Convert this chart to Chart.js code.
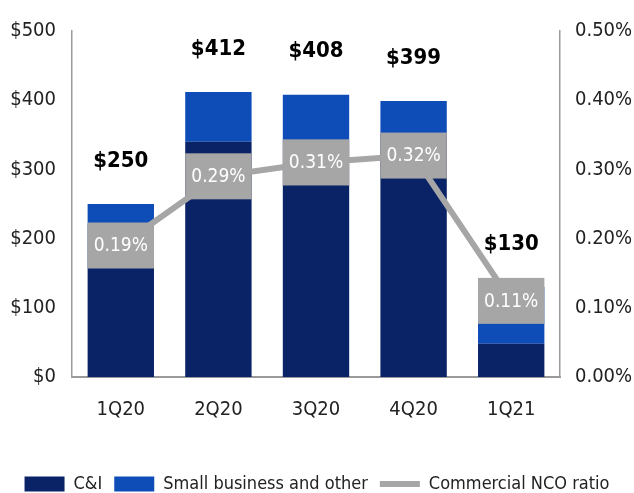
<!DOCTYPE html>
<html>
<head>
<meta charset="utf-8">
<script src="https://cdn.jsdelivr.net/npm/chart.js@4.4.1/dist/chart.umd.min.js"></script>
<style>
html, body { margin: 0; padding: 0; background: #fff; }
#wrap { width: 634px; height: 493px; }
</style>
</head>
<body>
<div id="wrap"><canvas id="barChart"></canvas></div>
<script>
// data (millions, NCO ratio in %)
var quarters = ['1Q20', '2Q20', '3Q20', '4Q20', '1Q21'];
var cAndI = [222, 340, 343, 352, 48];
var smallBusiness = [28, 72, 65, 47, 82];
var totals = [250, 412, 408, 399, 130];
var ncoRatio = [0.19, 0.29, 0.31, 0.32, 0.11];

var FONT = "'DejaVu Sans Condensed', 'Liberation Sans Narrow', sans-serif";

// gray ratio boxes over the line + bold totals above bars
var ratioBoxes = {
    id: 'ratioBoxes',
    afterDatasetsDraw: function(chart){
        var ctx = chart.ctx;
        var lineMeta = chart.getDatasetMeta(2);
        var barMeta = chart.getDatasetMeta(0);
        var yLeft = chart.scales.y;
        ctx.save();
        ctx.textAlign = 'center';
        ctx.textBaseline = 'middle';
        lineMeta.data.forEach(function(pt, i){
            var w = barMeta.data[i].width;
            ctx.fillStyle = '#a6a6a6';
            ctx.fillRect(pt.x - w / 2, pt.y - 23, w, 46);
            ctx.fillStyle = '#ffffff';
            ctx.font = '19px ' + FONT;
            ctx.fillText(ncoRatio[i].toFixed(2) + '%', pt.x, pt.y + 1);
            ctx.fillStyle = '#000000';
            ctx.font = 'bold 22px ' + FONT;
            ctx.fillText('$' + totals[i], pt.x, yLeft.getPixelForValue(totals[i]) - 43);
        });
        ctx.restore();
    }
};

var ctx = document.getElementById('barChart').getContext('2d');
var chart = new Chart(ctx, {
    type: 'bar',
    data: {
        labels: quarters,
        datasets: [{
            label: 'C&I',
            data: cAndI,
            backgroundColor: '#0a2266',
            pointStyle: 'rect',
            order: 1,
            yAxisID: 'y'
        }, {
            label: 'Small business and other',
            data: smallBusiness,
            backgroundColor: '#0e4cb8',
            pointStyle: 'rect',
            order: 1,
            yAxisID: 'y'
        }, {
            type: 'line',
            label: 'Commercial NCO ratio',
            data: ncoRatio,
            borderColor: '#a6a6a6',
            backgroundColor: '#a6a6a6',
            borderWidth: 6,
            pointRadius: 0,
            pointStyle: 'line',
            order: 0,
            yAxisID: 'y1'
        }]
    },
    options: {
        responsive: true,
        maintainAspectRatio: false,
        animation: false,
        layout: { padding: { top: 31, left: 0, right: 0, bottom: -10 } },
        datasets: { bar: { barPercentage: 0.68, categoryPercentage: 1 } },
        scales: {
            x: {
                stacked: true,
                grid: { display: false, drawTicks: false },
                border: { color: '#9a9a9a', width: 2 },
                ticks: { color: '#222', font: { family: FONT, size: 20 }, padding: 21 },
                afterFit: function(scale){ scale.height = 86; }
            },
            y: {
                stacked: true,
                min: 0, max: 500,
                grid: { display: false, drawTicks: false },
                border: { color: '#9a9a9a', width: 1.5 },
                ticks: {
                    stepSize: 100, padding: 16, color: '#222',
                    font: { family: FONT, size: 20 },
                    callback: function(v){ return '$' + v; }
                },
                afterFit: function(scale){ scale.width = 72; }
            },
            y1: {
                position: 'right',
                min: 0, max: 0.5,
                grid: { display: false, drawTicks: false },
                border: { color: '#9a9a9a', width: 1.5 },
                ticks: {
                    stepSize: 0.1, padding: 15, color: '#222',
                    font: { family: FONT, size: 20 },
                    callback: function(v){ return v.toFixed(2) + '%'; }
                },
                afterFit: function(scale){ scale.width = 74; }
            }
        },
        plugins: {
            tooltip: { enabled: false },
            legend: {
                position: 'bottom',
                labels: {
                    usePointStyle: true,
                    pointStyleWidth: 40,
                    boxHeight: 15,
                    padding: 12,
                    color: '#222',
                    font: { family: FONT, size: 18 },
                    sort: function(a, b){ return a.datasetIndex - b.datasetIndex; }
                }
            }
        }
    },
    plugins: [ratioBoxes]
});
</script>
</body>
</html>
